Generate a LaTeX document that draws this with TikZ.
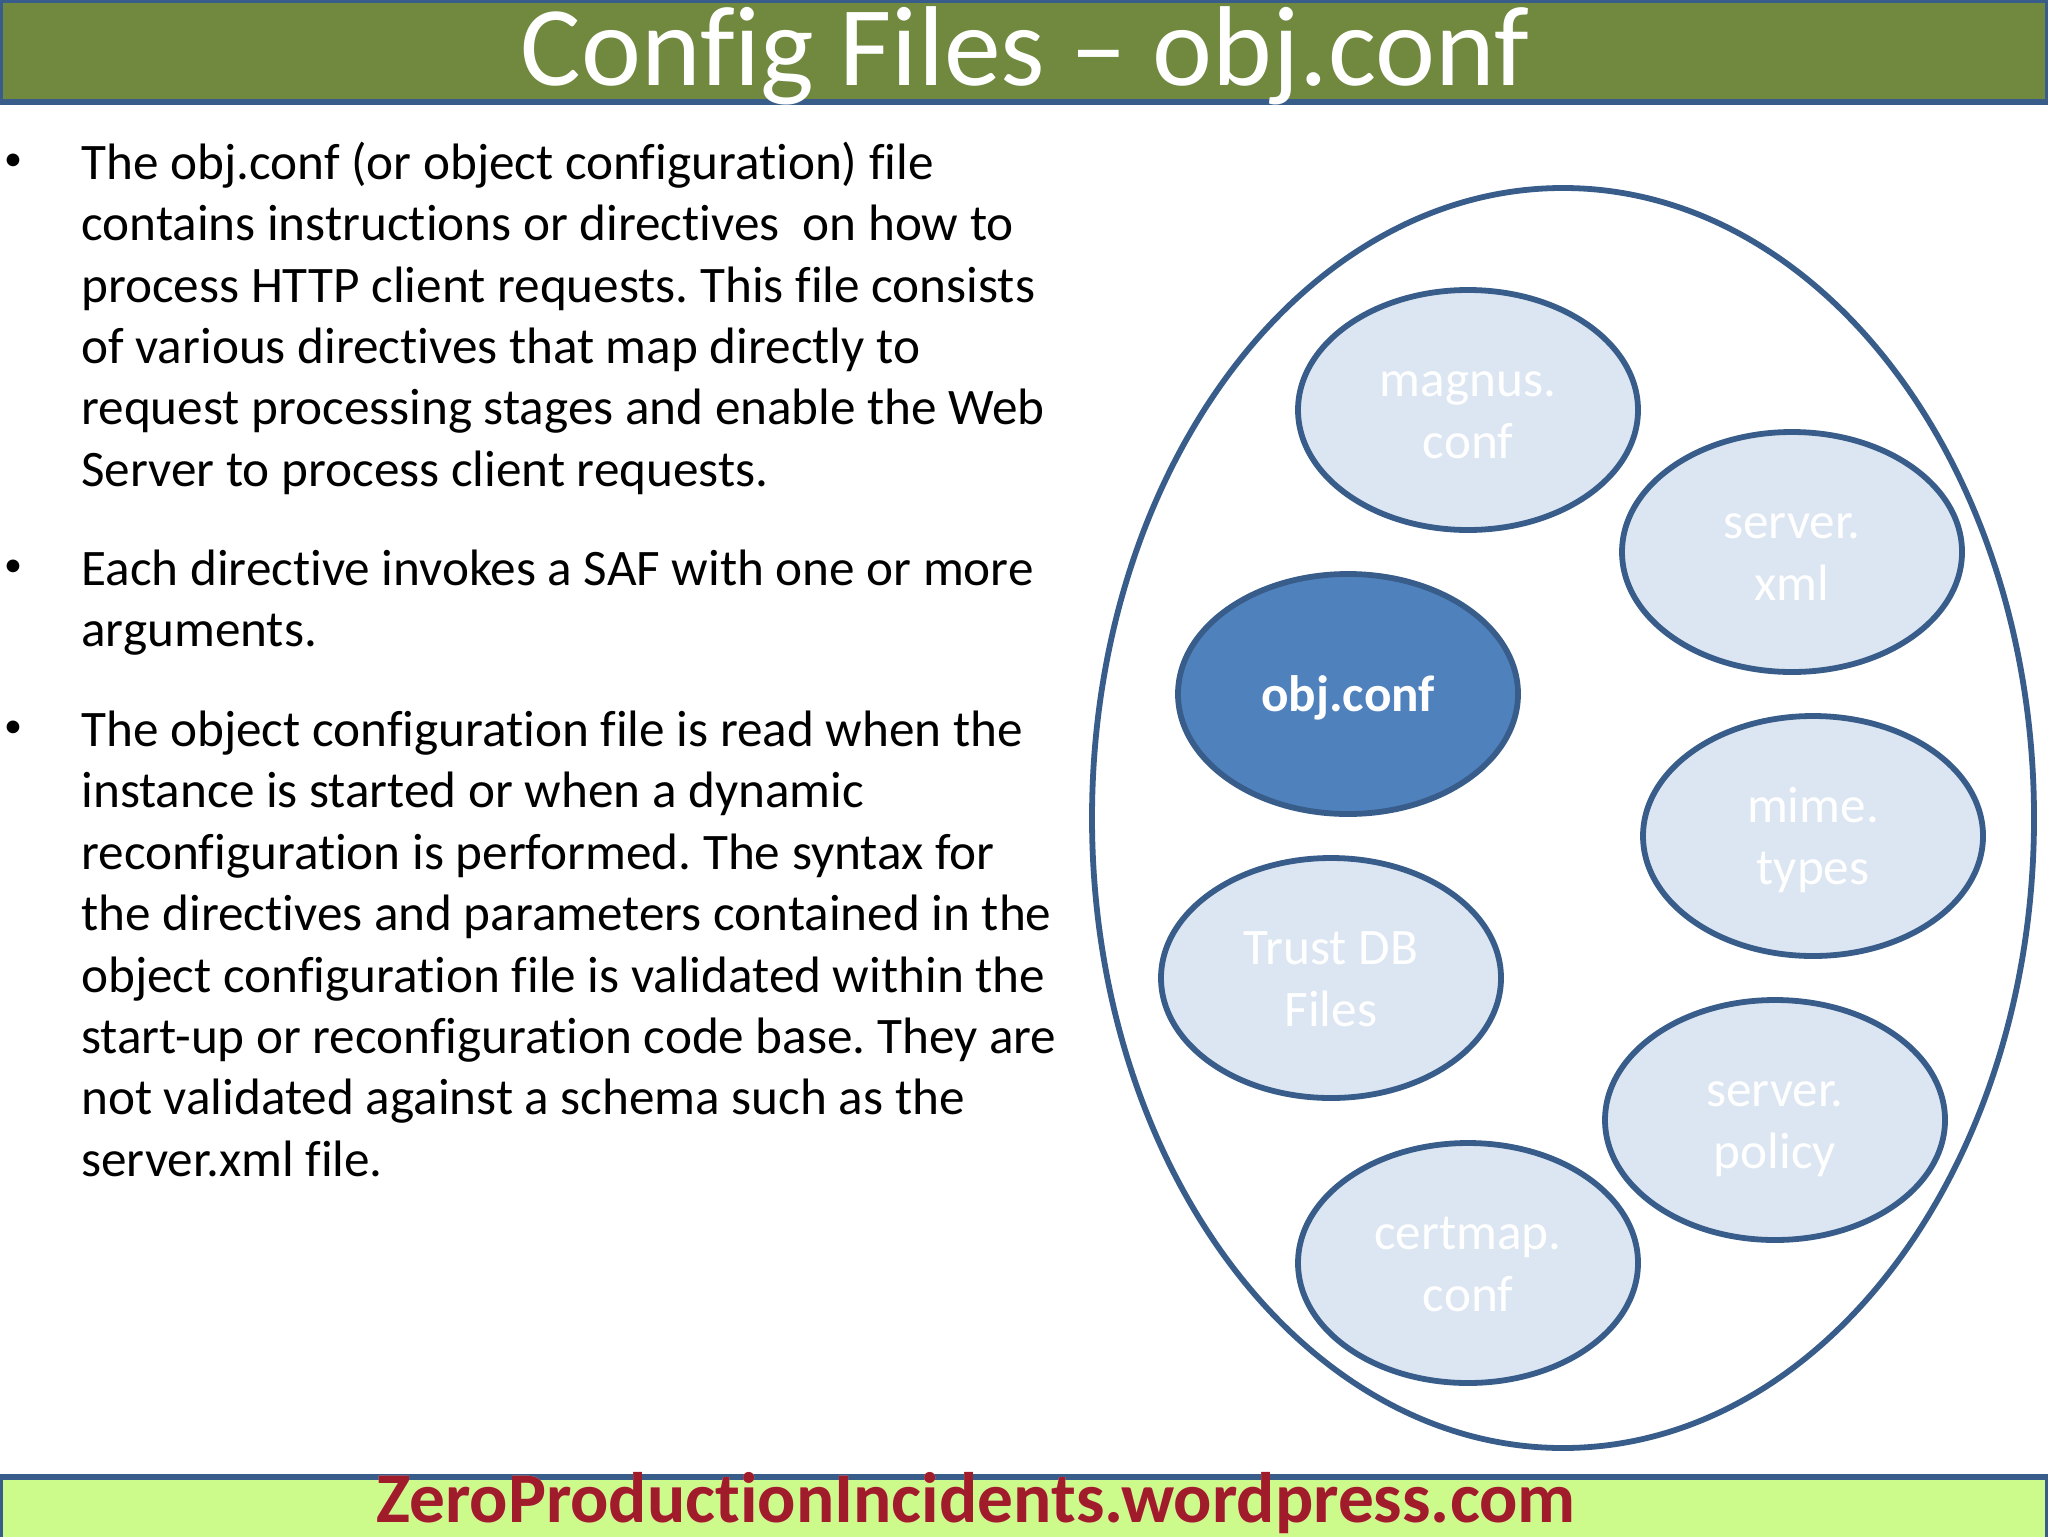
\documentclass[tikz,border=0pt]{standalone}
\usepackage{fontspec}
\setmainfont{Carlito}[Ligatures=CommonOff]
\usepackage[outline]{contour}
\usetikzlibrary{shapes.geometric,positioning}
\definecolor{rimblue}{HTML}{385D8A}
\definecolor{darkfill}{HTML}{4F81BD}
\definecolor{lightfill}{HTML}{DCE6F2}
\definecolor{titlegreen}{HTML}{71893F}
\definecolor{footgreen}{HTML}{CCFB8C}
\definecolor{footred}{HTML}{A01C2A}
\contourlength{0.6pt}
\newcommand*{\bodyfont}{\frenchspacing\fontsize{25.6}{30.7}\selectfont}
\newcommand*{\tall}{\rule{0pt}{24pt}}

\begin{document}
\begin{tikzpicture}[ % 1 unit = 1 pixel of the slide
        x=0.5pt,
        y=-0.5pt,
        line width=2.9pt,
        file/.style={ellipse,draw=rimblue,fill=lightfill,text=white,align=center,inner sep=0pt,
          minimum width=170pt,minimum height=120pt,font=\bodyfont,
          execute at end node={\rule[-6.7pt]{0pt}{0pt}}}, % small ellipses
        para/.style={anchor=north west,align=left,inner sep=0pt,font=\bodyfont}, % text blocks
        dot/.style={anchor=center,inner sep=0pt,font=\fontsize{18}{20}\selectfont} % bullets
      ]
      \useasboundingbox (0,0) rectangle (2048,1536);
      \clip (0,0) rectangle (2048,1536);
      \fill[white] (0,0) rectangle (2048,1536);
      %% bars
      \draw[rimblue,line width=3pt,fill=titlegreen] (0,0) rectangle (2048,102);
      \draw[rimblue,line width=3pt,fill=footgreen] (0,1477) rectangle (2048,1540);
      \node[text=white,inner sep=0pt,font=\fontsize{56.8}{60}\selectfont] (title) at (1025,56) {Config Files – obj.conf};
      \node[anchor=base,text=footred,inner sep=0pt,font=\fontsize{35.7}{40}\selectfont\bfseries] (foot) at (976,1522) {\contour{pink}{ZeroProductionIncidents.wordpress.com}};
      %% text
      \node[dot] (dot1) at (13,162) {•};
      \node[para] (para1) at (78.5,139) {The obj.conf (or object configuration) file\\
        contains instructions or directives\ \ on how to\\
        process HTTP client requests. This file consists\\
        of various directives that map directly to\\
        request processing stages and enable the Web\\
        Server to process client requests.};
      \node[dot] (dot2) at (13,568) {•};
      \node[para] (para2) at (78.5,547) {Each directive invokes a SAF with one or more\\
        arguments.};
      \node[dot] (dot3) at (13,729) {•};
      \node[para] (para3) at (78.5,708) {The object configuration file is read when the\\
        instance is started or when a dynamic\\
        reconfiguration is performed. The syntax for\\
        the directives and parameters contained in the\\
        object configuration file is validated within the\\
        start-up or reconfiguration code base. They are\\
        not validated against a schema such as the\\
        server.xml file.};
      %% ellipses
      \node[ellipse,draw=rimblue,inner sep=0pt,minimum width=471pt,minimum height=630pt] (outer) at (1563,818) {};
      \node[file] (magnus) at (1468,410) {\tall magnus.\\conf};
      \node[file] (server) at (1792,552) {\tall server.\\xml};
      \node[file,fill=darkfill,font=\bodyfont\bfseries] (obj) at (1348,694) {\tall obj.conf};
      \node[file] (mime) at (1813,836) {\tall mime.\\types};
      \node[file] (trust) at (1331,978) {\tall Trust DB\\Files};
      \node[file] (policy) at (1775,1120) {\tall server.\\policy};
      \node[file] (certmap) at (1468,1263) {\tall certmap.\\conf};
\end{tikzpicture}
\end{document}
